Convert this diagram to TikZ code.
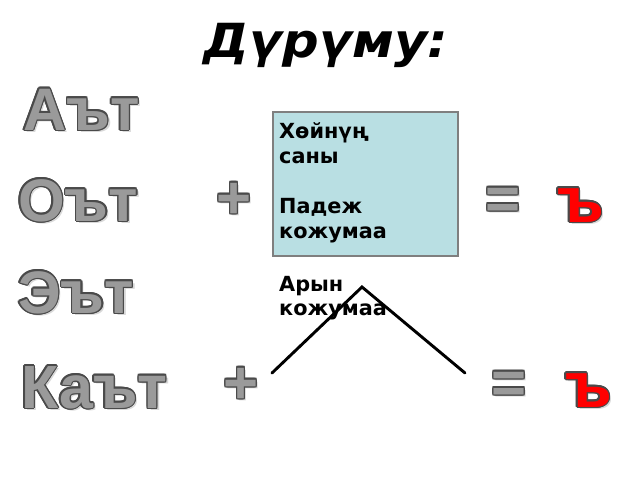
\documentclass[tikz,border=0pt]{standalone}
\usepackage{fontspec}
\setmainfont{DejaVu Sans}
\newfontfamily\arialfam{Liberation Sans}
\newfontfamily\djvfam{DejaVu Sans}
\newfontfamily\titlefam[FakeStretch=1.09]{DejaVu Sans}
\definecolor{wordfill}{HTML}{9A9A9A}
\definecolor{wordline}{HTML}{4A4A4A}
\definecolor{redfill}{HTML}{FF0000}
\definecolor{boxfill}{HTML}{B9DFE3}
\definecolor{boxline}{HTML}{7F7F7F}
\definecolor{shadowc}{HTML}{D8D8D8}
\tikzset{
  bigtext/.style={inner sep=0pt, anchor=base west},
  boxtext/.style={inner sep=0pt, anchor=base west, font=\djvfam\bfseries\fontsize{20.8}{20.8}\selectfont},
  vline/.style={line width=2.9pt, black, line cap=round, line join=miter},
}
% #1 name, #2 x, #3 y, #4 fill colour, #5 font size, #6 text, #7 anchor
\newcommand{\outlinedtext}[7]{%
  \node[bigtext, anchor=#7, text=shadowc, font={\arialfam\bfseries\fontsize{#5}{#5}\selectfont}] (#1s) at (#2+2.5,#3+2.5) {#6};
  \foreach \a [count=\i] in {0,30,...,330}{%
    \node[bigtext, anchor=#7, text=wordline, font={\arialfam\bfseries\fontsize{#5}{#5}\selectfont}, xshift={1.4*cos(\a)*1pt}, yshift={1.4*sin(\a)*1pt}] (#1o\i) at (#2,#3) {#6};
  }
  \node[bigtext, anchor=#7, text=#4, font={\arialfam\bfseries\fontsize{#5}{#5}\selectfont}] (#1) at (#2,#3) {#6};
}
\begin{document}
\begin{tikzpicture}[x=1pt,y=-1pt]
\useasboundingbox[fill=white] (0,0) rectangle (640,480);
% title
\node[inner sep=0pt, anchor=base, font=\titlefam\bfseries\itshape\fontsize{47}{47}\selectfont] (title) at (326,57) {Дүрүму:};
% words
\outlinedtext{w1}{23}{130}{wordfill}{60}{Аът}{base west}
\outlinedtext{w2}{18}{221}{wordfill}{60}{Оът}{base west}
\outlinedtext{w3}{18}{313}{wordfill}{60}{Эът}{base west}
\outlinedtext{w4}{21}{408}{wordfill}{61}{Каът}{base west}
% plus signs
\outlinedtext{p1}{234}{218}{wordfill}{60}{+}{base}
\outlinedtext{p2}{241}{403}{wordfill}{60}{+}{base}
% equal signs
\outlinedtext{e1}{503}{219}{wordfill}{60}{=}{base}
\outlinedtext{e2}{509}{403}{wordfill}{60}{=}{base}
% hard signs
\outlinedtext{h1}{557}{222}{redfill}{64}{ъ}{base west}
\outlinedtext{h2}{565}{407}{redfill}{64}{ъ}{base west}
% box
\draw[fill=boxfill, draw=boxline, line width=1.2pt] (273,112) rectangle (458,256);
\node[boxtext] (b1) at (279,138) {Хөйнүң};
\node[boxtext] (b2) at (279,163) {саны};
\node[boxtext] (b3) at (279,213) {Падеж};
\node[boxtext] (b4) at (279,238) {кожумаа};
% below
\node[boxtext] (a1) at (279,291) {Арын};
\node[boxtext] (a2) at (279,315) {кожумаа};
% angle lines
\coordinate (lleft) at (272,373);
\coordinate (apex) at (362,287);
\coordinate (lright) at (465,373);
\draw[vline] (lleft) -- (apex) -- (lright);
\end{tikzpicture}
\end{document}
